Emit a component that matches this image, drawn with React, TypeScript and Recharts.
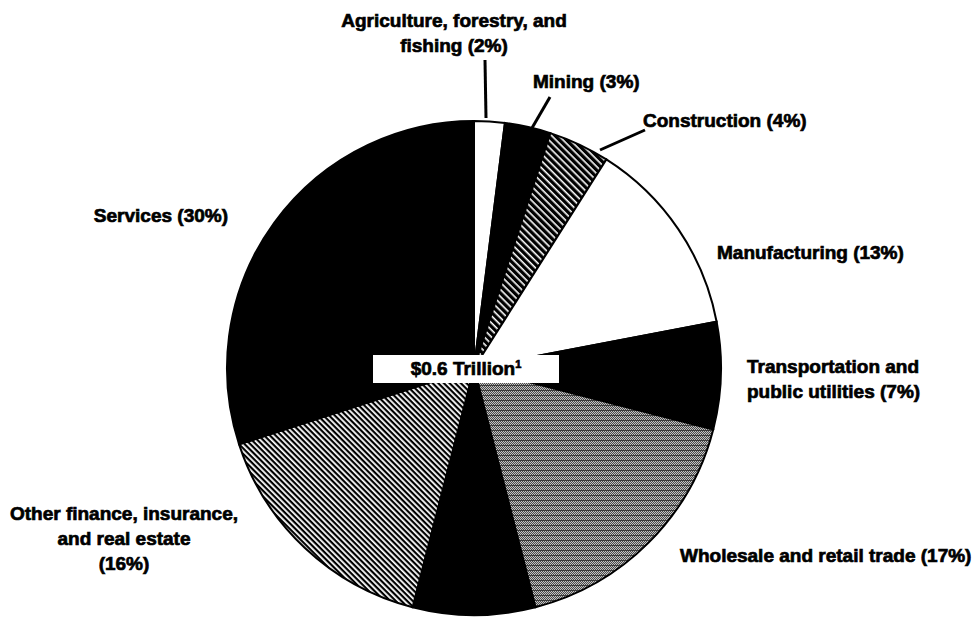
import React from "react";
import { Cell, Pie, PieChart } from "recharts";

// Slices, clockwise from 12 o'clock
const SECTORS = [
  "Agriculture",
  "Mining",
  "Construction",
  "Manufacturing",
  "Transportation",
  "Wholesale",
  "Unlabeled",
  "OtherFinance",
  "Services",
];
const SHARES = [2, 3, 4, 13, 7, 17, 8, 16, 30];

const LABEL_LINES: string[][] = [
  ["Agriculture, forestry, and", "fishing (2%)"],
  ["Mining (3%)"],
  ["Construction (4%)"],
  ["Manufacturing (13%)"],
  ["Transportation and", "public utilities (7%)"],
  ["Wholesale and retail trade (17%)"],
  [],
  ["Other finance, insurance,", "and real estate", "(16%)"],
  ["Services (30%)"],
];

const TOTAL_LABEL = "$0.6 Trillion";

const FILLS: Record<string, string> = {
  Agriculture: "#ffffff",
  Mining: "#000000",
  Construction: "url(#hatchDense)",
  Manufacturing: "#ffffff",
  Transportation: "#000000",
  Wholesale: "url(#grayDither)",
  Unlabeled: "#000000",
  OtherFinance: "url(#hatchEven)",
  Services: "#000000",
};

// label placement relative to the pie centre (first baseline), plus optional leader
type Layout = {
  dx: number;
  dy: number;
  anchor: "start" | "middle" | "end";
  leader?: [number, number, number, number];
};
const LAYOUT: Record<string, Layout> = {
  Agriculture: { dx: -20, dy: -341, anchor: "middle", leader: [11, -308, 12, -250] },
  Mining: { dx: 59, dy: -280, anchor: "start", leader: [76, -271, 58, -240] },
  Construction: { dx: 169, dy: -241, anchor: "start", leader: [171, -238, 126, -218] },
  Manufacturing: { dx: 243, dy: -109, anchor: "start" },
  Transportation: { dx: 273, dy: 5, anchor: "start" },
  Wholesale: { dx: 206, dy: 194, anchor: "start" },
  OtherFinance: { dx: -350, dy: 152, anchor: "middle" },
  Services: { dx: -246, dy: -146, anchor: "end" },
};

const data = SECTORS.map((name, i) => ({ name, value: SHARES[i], lines: LABEL_LINES[i] }));

const FONT = "'Liberation Sans', Arial, Helvetica, sans-serif";

function renderLabel(props: any) {
  const { cx, cy, index } = props;
  const item = data[index];
  const lay = LAYOUT[item.name];
  if (!lay || !item.lines.length) return null;
  return (
    <g key={`lbl-${index}`}>
      {lay.leader && (
        <line
          x1={cx + lay.leader[0]}
          y1={cy + lay.leader[1]}
          x2={cx + lay.leader[2]}
          y2={cy + lay.leader[3]}
          stroke="#000"
          strokeWidth={3}
        />
      )}
      {item.lines.map((t, j) => (
        <text
          key={j}
          x={cx + lay.dx}
          y={cy + lay.dy + j * 25}
          textAnchor={lay.anchor}
          fontFamily={FONT}
          fontWeight="bold"
          fontSize={19}
          fill="#000"
          stroke="#000"
          strokeWidth={0.7}
        >
          {t}
        </text>
      ))}
    </g>
  );
}

export default function App() {
  return (
    <div style={{ position: "absolute", left: 0, top: 0, width: 974, height: 617, background: "#fff" }}>
      <PieChart width={974} height={617} margin={{ top: 0, right: 0, bottom: 0, left: 0 }}>
        <defs>
          <pattern id="hatchDense" width="5" height="5" patternUnits="userSpaceOnUse" patternTransform="rotate(45)">
            <rect width="5" height="5" fill="#000" />
            <rect y="0" width="5" height="1.6" fill="#fff" />
          </pattern>
          <pattern id="hatchEven" width="4" height="4" patternUnits="userSpaceOnUse" patternTransform="rotate(45)">
            <rect width="4" height="4" fill="#fff" />
            <rect y="0" width="4" height="2.2" fill="#000" />
          </pattern>
          <pattern id="grayDither" width="2" height="5" patternUnits="userSpaceOnUse">
            <rect width="2" height="5" fill="#c4c4c4" />
            <rect x="0" y="0" width="2" height="1" fill="#3a3a3a" />
            <rect x="0" y="1" width="1" height="1" fill="#4a4a4a" />
            <rect x="1" y="2" width="1" height="1" fill="#4a4a4a" />
            <rect x="0" y="3" width="1" height="1" fill="#4a4a4a" />
            <rect x="1" y="4" width="1" height="1" fill="#4a4a4a" />
          </pattern>
        </defs>
        <Pie
          data={data}
          dataKey="value"
          nameKey="name"
          cx={474}
          cy={368}
          outerRadius={247}
          startAngle={90}
          endAngle={-270}
          stroke="#000"
          strokeWidth={2}
          label={renderLabel}
          labelLine={false}
          isAnimationActive={false}
        >
          {data.map((d) => (
            <Cell key={d.name} fill={FILLS[d.name]} />
          ))}
        </Pie>
      </PieChart>
      <div
        style={{
          position: "absolute",
          left: 373,
          top: 355,
          width: 186,
          height: 28,
          background: "#fff",
          display: "flex",
          alignItems: "center",
          justifyContent: "center",
          fontFamily: FONT,
          fontWeight: "bold",
          fontSize: 19,
          color: "#000",
          WebkitTextStroke: "0.7px #000",
        }}
      >
        <span>
          {TOTAL_LABEL}
          <sup style={{ fontSize: 11 }}>1</sup>
        </span>
      </div>
    </div>
  );
}
